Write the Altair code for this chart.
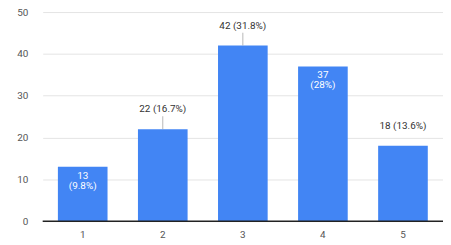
import altair as alt
import pandas as pd

categories = ["1", "2", "3", "4", "5"]
counts = [13, 22, 42, 37, 18]
percents = ["9.8%", "16.7%", "31.8%", "28%", "13.6%"]
placement = ["inside", "outside", "outside", "inside", "outside"]
leader = [False, True, True, False, False]
y_ticks = [0, 10, 20, 30, 40, 50]

df = pd.DataFrame({
    "cat": categories,
    "count": counts,
    "pct": percents,
    "placement": placement,
    "leader": leader,
})
df["inside_text"] = [f"{c}\n({p})" for c, p in zip(counts, percents)]
df["outside_text"] = [f"{c} ({p})" for c, p in zip(counts, percents)]

FONT = "Roboto"

x = alt.X(
    "cat:N",
    sort=categories,
    scale=alt.Scale(paddingInner=0.38, paddingOuter=0.19),
    axis=alt.Axis(title=None, labelAngle=0, domain=False, ticks=False,
                  labelPadding=9, labelColor="#555555", labelFontSize=10,
                  labelFont=FONT, grid=False),
)
y = alt.Y(
    "count:Q",
    scale=alt.Scale(domain=[0, 50], nice=False),
    axis=alt.Axis(title=None, values=y_ticks, domain=False, ticks=False,
                  labelPadding=15, labelColor="#555555", labelFontSize=10,
                  labelFont=FONT, gridColor="#e4e4e4", gridWidth=1),
)

base = alt.Chart(df)

bars = base.mark_bar(color="#4285F4").encode(x=x, y=y)

zero = alt.Chart(pd.DataFrame({"v": [0]})).mark_rule(
    color="#222222", strokeWidth=1.5
).encode(y=alt.Y("v:Q"))

inside = base.transform_filter(alt.datum.placement == "inside").mark_text(
    color="white", baseline="top", dy=4, fontSize=10, font=FONT,
    lineBreak="\n", lineHeight=10
).encode(x=alt.X("cat:N", sort=categories), y=alt.Y("count:Q"), text="inside_text:N")

outside = base.transform_filter(alt.datum.placement == "outside").mark_text(
    color="#333333", baseline="bottom", dy=-15, fontSize=10, font=FONT
).encode(x=alt.X("cat:N", sort=categories), y=alt.Y("count:Q"), text="outside_text:N")

leaders = base.transform_filter(alt.datum.leader == True).mark_tick(
    orient="vertical", size=13, thickness=1, color="#999999", yOffset=-6.5
).encode(x=alt.X("cat:N", sort=categories), y=alt.Y("count:Q"))

chart = alt.layer(bars, zero, leaders, inside, outside).properties(
    width=404, height=211,
    autosize="none",
    padding={"left": 35, "top": 3, "right": 0, "bottom": 24},
).configure_view(stroke=None)

chart.save("out.html", embed_options={"renderer": "svg", "actions": False})
